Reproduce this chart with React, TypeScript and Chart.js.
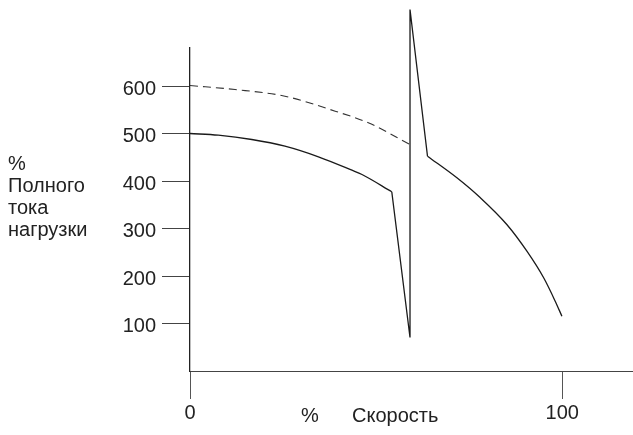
import React, { useEffect, useRef } from "react";
import { Chart, registerables } from "chart.js";

Chart.register(...registerables);

// Speed (% of rated) and current (% of full-load current)
// Solid curve, left part (before the switching transient)
const leftSpeed = [0, 7.6, 16.6, 25.5, 34.5, 43.5, 46.2, 54.2];
const leftCurrent = [500, 496.4, 487.4, 473.3, 450.9, 422.7, 413.7, 377.3];
// Switching transient (straight segments)
const spikeSpeed = [54.2, 59.1, 59.1, 63.8];
const spikeCurrent = [377.3, 70.5, 761, 452.2];
// Solid curve, right part
const rightSpeed = [63.8, 71.7, 78, 85.1, 90.5, 95, 98.1, 99.9];
const rightCurrent = [452.2, 406.7, 364.6, 308.4, 252.2, 196.2, 147, 115.4];

// Dashed curve
const dashedSpeed = [0, 12.1, 25.5, 39, 47.9, 59.1];
const dashedCurrent = [601, 592.6, 578.5, 547, 522.5, 477];

const yTicks = [100, 200, 300, 400, 500, 600];
const xTicks = [0, 100];

const yTitleLines = ["%", "Полного", "тока", "нагрузки"];
const xTitlePercent = "%";
const xTitleWord = "Скорость";

const FONT = "'Liberation Sans', Arial, sans-serif";

const pts = (xs: number[], ys: number[]) => xs.map((x, i) => ({ x, y: ys[i] }));

export default function App() {
  const ref = useRef<HTMLCanvasElement | null>(null);

  useEffect(() => {
    if (!ref.current) return;
    const titlesPlugin = {
      id: "titles",
      afterDraw(chart: any) {
        const ctx = chart.ctx;
        ctx.save();
        ctx.fillStyle = "#222";
        ctx.font = `20px ${FONT}`;
        ctx.textAlign = "left";
        ctx.textBaseline = "alphabetic";
        const baselines = [170, 192, 214, 236];
        yTitleLines.forEach((t, i) => ctx.fillText(t, 8, baselines[i]));
        ctx.textAlign = "center";
        ctx.fillText(xTitlePercent, 310, 422);
        ctx.textAlign = "left";
        ctx.fillText(xTitleWord, 352, 422);
        ctx.restore();
      },
    };

    const solid = {
      borderColor: "#1a1a1a",
      borderWidth: 1.3,
      pointRadius: 0,
      clip: false as any,
      fill: false,
    };

    const chart = new Chart(ref.current, {
      type: "line",
      data: {
        datasets: [
          { ...solid, data: pts(leftSpeed, leftCurrent), tension: 0.4, cubicInterpolationMode: "monotone" as any },
          { ...solid, data: pts(spikeSpeed, spikeCurrent), tension: 0 },
          { ...solid, data: pts(rightSpeed, rightCurrent), tension: 0.4, cubicInterpolationMode: "monotone" as any },
          {
            data: pts(dashedSpeed, dashedCurrent),
            borderColor: "#333",
            borderWidth: 1.1,
            borderDash: [8, 5],
            pointRadius: 0,
            tension: 0.4,
            cubicInterpolationMode: "monotone" as any,
            clip: false as any,
            fill: false,
          },
        ],
      },
      options: {
        responsive: false,
        animation: false,
        layout: { padding: { top: 48, right: 0, left: 0, bottom: 0 } },
        plugins: { legend: { display: false }, tooltip: { enabled: false } },
        scales: {
          x: {
            type: "linear",
            min: 0,
            max: 119,
            afterBuildTicks: (s: any) => {
              s.ticks = xTicks.map((v) => ({ value: v }));
            },
            afterFit: (s: any) => {
              s.height = 64;
            },
            grid: { drawOnChartArea: false, drawTicks: true, tickLength: 28, color: "#555", lineWidth: 1 },
            border: { display: true, color: "#444", width: 1 },
            ticks: {
              color: "#222",
              font: { family: FONT, size: 20 },
              padding: 2,
              maxRotation: 0,
              callback: (v: any) => String(v),
            },
          },
          y: {
            type: "linear",
            min: 0,
            max: 680,
            afterBuildTicks: (s: any) => {
              s.ticks = yTicks.map((v) => ({ value: v }));
            },
            afterFit: (s: any) => {
              s.width = 190;
            },
            grid: { drawOnChartArea: false, drawTicks: true, tickLength: 28, color: "#444", lineWidth: 1 },
            border: { display: true, color: "#222", width: 1.3 },
            ticks: {
              color: "#222",
              font: { family: FONT, size: 20 },
              padding: 6,
              labelOffset: 3,
              callback: (v: any) => String(v),
            },
          },
        },
      },
      plugins: [titlesPlugin],
    });
    return () => chart.destroy();
  }, []);

  return (
    <div style={{ position: "absolute", left: 0, top: 0, width: 633, height: 435, background: "#fff" }}>
      <canvas ref={ref} width={633} height={435} style={{ display: "block" }} />
    </div>
  );
}
